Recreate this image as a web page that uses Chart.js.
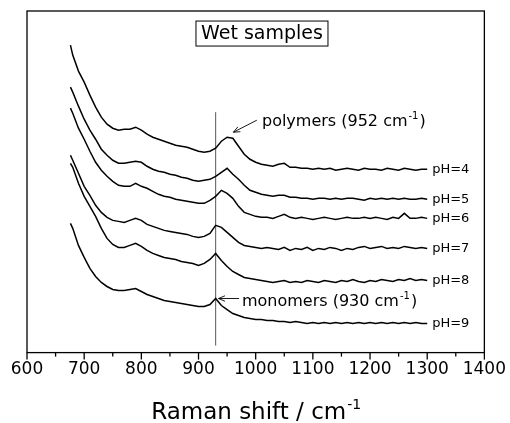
<!DOCTYPE html>
<html>
<head>
<meta charset="utf-8">
<title>Wet samples - Raman spectra</title>
<script src="https://cdn.jsdelivr.net/npm/chart.js"></script>
<style>
  body { margin: 0; background: #fff; }
</style>
</head>
<body>
<canvas id="raman" width="510" height="423"></canvas>
<script>
// Raman shift (cm-1) sampled for all spectra
const shift = [676, 680, 690, 700, 710, 720, 730, 740, 750, 760, 770, 780, 790, 800, 810, 820,
  830, 840, 850, 860, 870, 880, 890, 900, 910, 920, 930, 940, 950, 960, 970, 980, 990, 1000,
  1010, 1020, 1030, 1040, 1050, 1060, 1070, 1080, 1090, 1100, 1110, 1120, 1130, 1140, 1150,
  1160, 1170, 1180, 1190, 1200, 1210, 1220, 1230, 1240, 1250, 1260, 1270, 1280, 1290, 1300];

// intensities (a.u., stacked with offsets)
const ph4 = [307, 297, 281, 270, 257, 245, 235, 228, 224, 222, 223, 223, 225, 222, 218, 215,
  213, 211, 209, 207, 206, 205, 203, 201, 200, 201, 204, 211, 215, 214, 206, 198, 193, 190,
  188, 187, 186, 188, 189, 185, 185, 184, 184, 183, 184, 183, 184, 182, 183,
  184, 183, 182, 184, 183, 183, 182, 184, 183, 182, 184, 183, 182, 183, 183];
const ph5 = [265, 260, 246, 233, 222, 213, 203, 197, 192, 189, 189, 190, 191, 190, 186, 183,
  181, 180, 178, 177, 175, 174, 172, 171, 172, 173, 176, 180, 184, 178, 173, 167, 162, 160,
  158, 157, 156, 157, 157, 155, 155, 154, 154, 153, 154, 154, 153, 154, 153,
  154, 154, 153, 152, 154, 153, 154, 153, 154, 153, 154, 153, 153, 154, 153];
const ph6 = [244, 239, 224, 213, 201, 190, 182, 176, 171, 167, 166, 166, 169, 166, 164, 161,
  158, 156, 155, 153, 152, 151, 150, 149, 149, 152, 156, 162, 159, 154, 146, 140, 138, 136,
  135, 135, 134, 136, 138, 135, 134, 135, 134, 133, 134, 135, 134, 133, 134,
  135, 134, 134, 135, 134, 135, 134, 133, 135, 134, 139, 134, 134, 135, 134];
const ph7 = [197, 192, 179, 166, 157, 147, 140, 135, 132, 131, 130, 132, 134, 132, 128, 126,
  124, 122, 121, 120, 119, 118, 116, 115, 116, 119, 127, 125, 120, 115, 110, 107, 106, 105,
  104, 105, 104, 103, 105, 102, 104, 103, 105, 102, 104, 103, 105, 104, 102,
  104, 103, 105, 106, 104, 105, 106, 104, 105, 104, 106, 105, 104, 105, 104];
const ph8 = [189, 185, 169, 156, 146, 136, 124, 114, 108, 105, 105, 107, 109, 106, 102, 99,
  97, 95, 94, 93, 91, 90, 89, 87, 89, 93, 99, 92, 86, 81, 78, 75, 74, 73,
  72, 71, 70, 71, 72, 70, 71, 70, 72, 71, 70, 72, 71, 70, 72,
  71, 73, 71, 70, 72, 71, 73, 72, 71, 73, 72, 74, 72, 73, 72];
const ph9 = [129, 124, 107, 95, 84, 76, 70, 66, 63, 62, 62, 63, 64, 61, 58, 56,
  54, 52, 51, 50, 49, 48, 47, 46, 46, 48, 54, 47, 43, 39, 37, 35, 34, 33,
  33, 32, 32, 31, 31, 30, 31, 30, 29, 30, 29, 30, 29, 30, 29,
  30, 29, 30, 29, 30, 29, 30, 29, 30, 29, 30, 29, 30, 29, 29];

const series = [ph4, ph5, ph6, ph7, ph8, ph9];
const seriesNames = ['pH=4', 'pH=5', 'pH=6', 'pH=7', 'pH=8', 'pH=9'];

// marker line at the monomer band
const markerShift = 930;
const markerRange = [7, 240];

const FONT = '"DejaVu Sans", "Liberation Sans", sans-serif';

// text with a superscript tail, e.g. "cm" + "-1"
function supText(ctx, base, sup, x, y, size, align) {
  ctx.font = size + 'px ' + FONT;
  const wb = ctx.measureText(base).width;
  ctx.font = Math.round(size * 0.62) + 'px ' + FONT;
  const ws = ctx.measureText(sup).width;
  let x0 = x;
  if (align === 'center') x0 = x - (wb + ws) / 2;
  ctx.textAlign = 'left';
  ctx.font = size + 'px ' + FONT;
  ctx.fillText(base, x0, y);
  ctx.font = Math.round(size * 0.62) + 'px ' + FONT;
  ctx.fillText(sup, x0 + wb + 1, y - size * 0.42);
  return x0 + wb + ws + 1;
}

function arrow(ctx, x1, y1, x2, y2) {
  const ang = Math.atan2(y2 - y1, x2 - x1);
  ctx.beginPath();
  ctx.moveTo(x1, y1);
  ctx.lineTo(x2, y2);
  ctx.stroke();
  ctx.beginPath();
  ctx.moveTo(x2 - 7 * Math.cos(ang - 0.4), y2 - 7 * Math.sin(ang - 0.4));
  ctx.lineTo(x2, y2);
  ctx.lineTo(x2 - 7 * Math.cos(ang + 0.4), y2 - 7 * Math.sin(ang + 0.4));
  ctx.stroke();
}

const decor = {
  id: 'decor',
  afterDraw(chart) {
    const { ctx, chartArea: a, scales: { x, y } } = chart;
    ctx.save();
    ctx.strokeStyle = '#000';
    ctx.fillStyle = '#000';

    // plot frame
    ctx.lineWidth = 1.3;
    ctx.strokeRect(a.left, a.top, a.right - a.left, a.bottom - a.top);

    // major / minor ticks below the axis
    x.ticks.forEach(t => {
      const px = x.getPixelForValue(t.value);
      const len = t.value % 100 === 0 ? 7 : 4;
      ctx.beginPath();
      ctx.moveTo(px, a.bottom);
      ctx.lineTo(px, a.bottom + len);
      ctx.stroke();
    });

    // pH labels at the end of each spectrum
    ctx.textBaseline = 'middle';
    ctx.textAlign = 'left';
    ctx.font = '13px ' + FONT;
    seriesNames.forEach((name, i) => {
      const pts = chart.getDatasetMeta(i).data;
      const last = pts[pts.length - 1];
      ctx.fillText(name, last.x + 5, last.y);
    });

    // "Wet samples" boxed caption
    const bx = x.getPixelForValue(1011), by = y.getPixelForValue(318.5);
    ctx.font = '19px ' + FONT;
    ctx.textAlign = 'center';
    ctx.fillText('Wet samples', bx, by + 1);
    ctx.lineWidth = 1;
    ctx.strokeRect(bx - 66, by - 12.5, 132, 25);

    // band annotations
    ctx.lineWidth = 0.9;
    ctx.textBaseline = 'alphabetic';
    arrow(ctx, x.getPixelForValue(1002), y.getPixelForValue(232),
      x.getPixelForValue(961), y.getPixelForValue(220));
    let end = supText(ctx, 'polymers (952 cm', '-1', x.getPixelForValue(1011),
      y.getPixelForValue(232) + 6, 16, 'left');
    ctx.font = '16px ' + FONT;
    ctx.fillText(')', end + 1, y.getPixelForValue(232) + 6);

    arrow(ctx, x.getPixelForValue(971), y.getPixelForValue(54),
      x.getPixelForValue(935), y.getPixelForValue(54));
    end = supText(ctx, 'monomers (930 cm', '-1', x.getPixelForValue(976),
      y.getPixelForValue(53) + 6, 16, 'left');
    ctx.font = '16px ' + FONT;
    ctx.fillText(')', end + 1, y.getPixelForValue(53) + 6);

    // x axis title
    supText(ctx, 'Raman shift / cm', '-1', (a.left + a.right) / 2, 419, 23, 'center');
    ctx.restore();
  }
};

const datasets = series.map((vals, i) => ({
  label: seriesNames[i],
  data: shift.map((s, k) => ({ x: s, y: vals[k] })),
  borderColor: '#000',
  borderWidth: 1.5,
  pointRadius: 0,
  tension: 0
}));
datasets.push({
  label: 'marker',
  data: markerRange.map(v => ({ x: markerShift, y: v })),
  borderColor: '#444',
  borderWidth: 0.9,
  pointRadius: 0
});

new Chart(document.getElementById('raman'), {
  type: 'line',
  data: { datasets: datasets },
  options: {
    responsive: false,
    animation: false,
    layout: { padding: { left: 27, right: 20, top: 11, bottom: 39 } },
    plugins: { legend: { display: false }, tooltip: { enabled: false } },
    scales: {
      x: {
        type: 'linear',
        min: 600,
        max: 1400,
        // tick marks are drawn by the decor plugin; keep the space only
        grid: {
          display: true,
          drawOnChartArea: false,
          drawTicks: true,
          tickLength: 3,
          color: 'rgba(0,0,0,0)',
          tickColor: 'rgba(0,0,0,0)'
        },
        border: { display: false },
        ticks: {
          stepSize: 50,
          padding: 4,
          maxRotation: 0,
          autoSkip: false,
          color: '#000',
          font: { family: FONT, size: 17 },
          callback: v => (v % 100 === 0 ? v : '')
        }
      },
      y: {
        display: false,
        min: 0,
        max: 341
      }
    }
  },
  plugins: [decor]
});
</script>
</body>
</html>
